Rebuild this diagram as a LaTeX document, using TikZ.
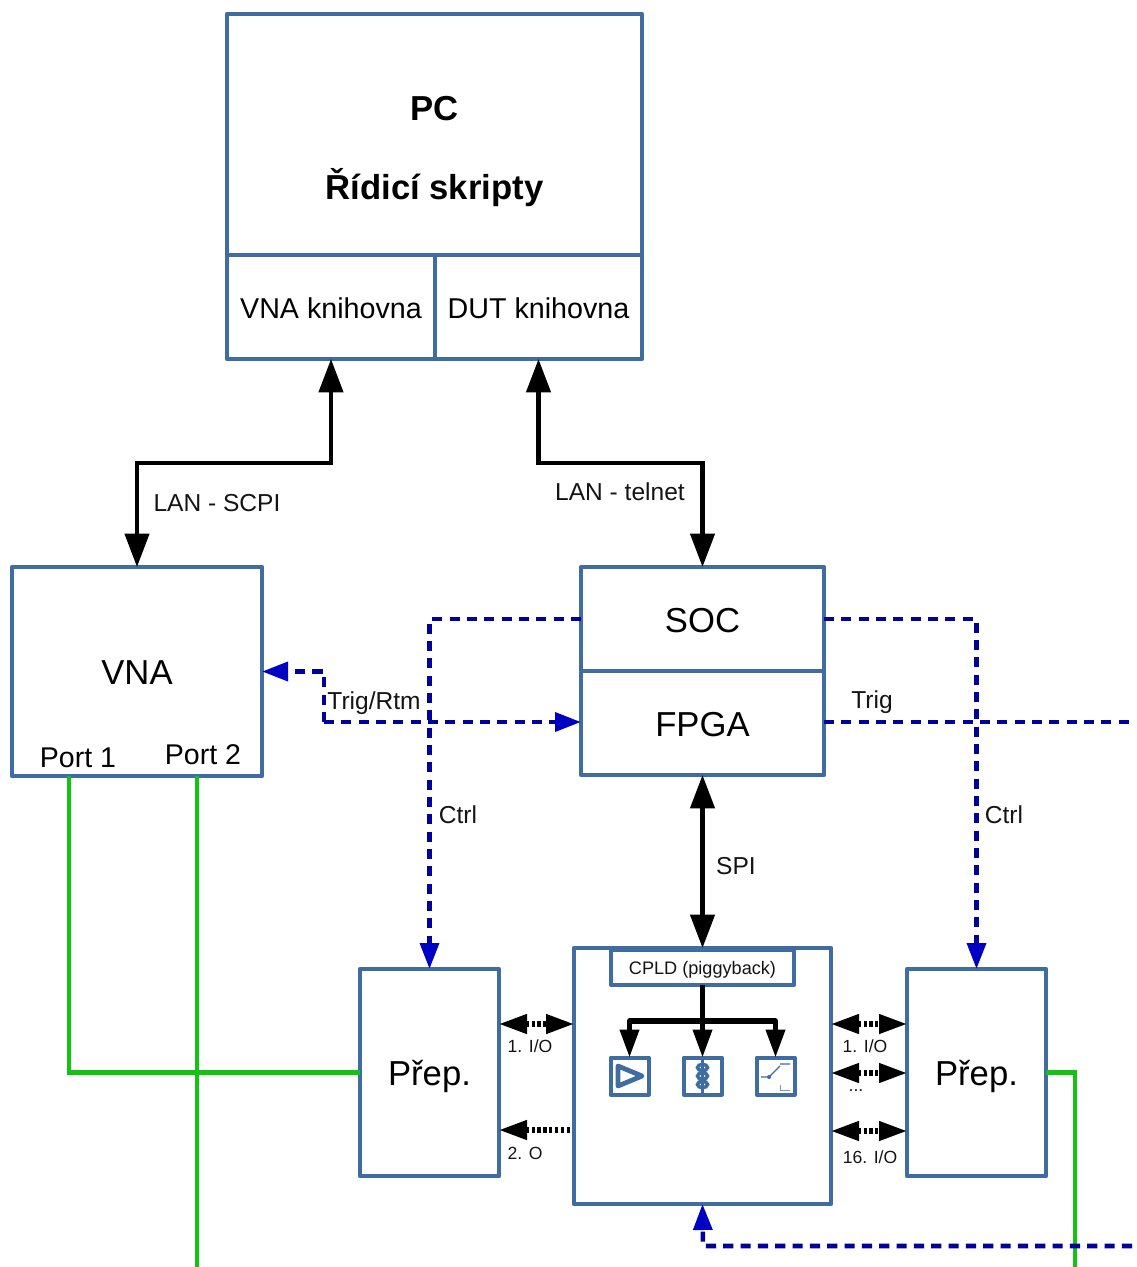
\documentclass[tikz,border=0pt]{standalone}
\usepackage{fontspec}
\setmainfont{Liberation Sans}
\usetikzlibrary{arrows.meta}
\definecolor{boxblue}{HTML}{3F6DA2}
\definecolor{dashblue}{HTML}{00009A}
\definecolor{tipblue}{HTML}{0000C4}
\definecolor{wiregreen}{HTML}{12C312}
\newcommand{\basetext}[2]{\raisebox{-#1}[10pt][10pt]{#2}}
\tikzset{
  x=0.75pt,y=-0.75pt,
  blk/.style={draw=boxblue,line width=3.3pt,inner sep=0pt,outer sep=0pt,line join=round,fill=white,align=center},
  smallblk/.style={draw=boxblue,line width=3pt,inner sep=0pt,outer sep=0pt,line join=round,fill=white},
  big/.style={font=\fontsize{26}{30}\selectfont},
  lib/.style={font=\fontsize{21.5}{25}\selectfont},
  lbl/.style={font=\fontsize{18.4}{22}\selectfont,inner sep=0pt,text=black!92},
  tiny/.style={font=\fontsize{13.2}{16}\selectfont,inner sep=0pt,text=black!92},
  heading/.style={font=\fontsize{26}{30}\bfseries\selectfont,inner sep=0pt},
  bigtip/.tip={Triangle[length=25pt,width=18pt]},
  midtip/.tip={Triangle[length=21pt,width=14pt]},
  bluetip/.tip={Triangle[length=19.5pt,width=14pt,color=tipblue]},
  ctl/.style={draw=black,line width=3.2pt,line join=miter},
  tee/.style={draw=black,line width=3.8pt,line join=round},
  io/.style={draw=black,line width=4pt,dash pattern=on 2.4pt off 2pt},
  trig/.style={draw=dashblue,line width=3.4pt,dash pattern=on 7.6pt off 5.4pt},
  wire/.style={draw=wiregreen,line width=3.2pt,line join=miter},
}
\begin{document}
\begin{tikzpicture}
\useasboundingbox (0,0) rectangle (1136,1267);
\fill[white] (0,0) rectangle (1136,1267);

% free ends
\coordinate (leftbus) at (324,722);
\coordinate (trigend) at (1132,722);
\coordinate (trigback) at (1132,1246);
\coordinate (cpldin) at (703,1246);
\coordinate (port1) at (69,776);
\coordinate (port2) at (197,776);
\coordinate (port2end) at (197,1267);
\coordinate (rightend) at (1075,1267);
\coordinate (o2start) at (570,1130);
\coordinate (fan) at (702.5,1021);

% blocks
\node[blk,minimum width=311.25pt,minimum height=180.75pt] (pc) at (434.5,134.5) {};
\node[blk,lib,minimum width=156pt,minimum height=78pt] (vnalib) at (331,307) {\basetext{8.5pt}{VNA knihovna}};
\node[blk,lib,minimum width=155.25pt,minimum height=78pt] (dutlib) at (538.5,307) {\basetext{8.5pt}{DUT knihovna}};
\node[blk,big,minimum width=187.5pt,minimum height=156.75pt] (vna) at (137,671.5) {\basetext{9.6pt}{VNA}};
\node[blk,big,minimum width=182.25pt,minimum height=78pt] (soc) at (702.5,619) {\basetext{10pt}{SOC}};
\node[blk,big,minimum width=182.25pt,minimum height=78pt] (fpga) at (702.5,723) {\basetext{10pt}{FPGA}};
\node[blk,minimum width=192.75pt,minimum height=192pt] (cpld) at (702.5,1076) {};
\node[blk,font=\fontsize{13.6}{15}\selectfont,minimum width=137.25pt,minimum height=26.25pt,text=black!92] (pig) at (702.5,967.5) {\basetext{4.9pt}{CPLD (piggyback)}};
\node[blk,big,minimum width=104.25pt,minimum height=155.25pt] (prepl) at (429.5,1072.5) {\basetext{10pt}{Přep.}};
\node[blk,big,minimum width=104.25pt,minimum height=155.25pt] (prepr) at (976.5,1072.5) {\basetext{10pt}{Přep.}};
\node[smallblk,minimum width=28.5pt,minimum height=27.75pt] (amp) at (629.5,1076) {};
\node[smallblk,minimum width=28.5pt,minimum height=27.75pt] (ind) at (702.5,1076) {};
\node[smallblk,minimum width=28.5pt,minimum height=27.75pt] (sw) at (775.5,1076) {};

% block texts
\node[heading] (pctitle) at (434.5,109) {PC};
\node[heading] (pcsub) at (434.5,187.5) {Řídicí skripty};
\node[font=\fontsize{21.4}{25}\selectfont,inner sep=0pt] (p1txt) at (78,758) {Port 1};
\node[font=\fontsize{21.4}{25}\selectfont,inner sep=0pt] (p2txt) at (203,755) {Port 2};

% icon contents
\draw[boxblue,line width=3.6pt,line join=round] (618,1066) -- (642,1076) -- (618,1086) -- cycle;
\draw[boxblue,line width=2pt] (702.5,1057) -- (702.5,1095);
\draw[boxblue,line width=2.6pt] (702.5,1067.5) ellipse (5 and 3.2)
  (702.5,1076) ellipse (5 and 3.2) (702.5,1084.5) ellipse (5 and 3.2);
\draw[boxblue,line width=0.9pt] (761,1077) -- (769,1077) -- (780,1066) (780,1064) -- (790,1064);
\fill[boxblue] (769,1077) circle (2);
\draw[boxblue!70,line width=0.5pt] (780,1085) -- (780,1090) -- (790,1090);

% PC links
\draw[ctl,{bigtip}-{bigtip}] (vnalib.south) -- (331,463) -| (vna.north);
\draw[ctl,{bigtip}-{bigtip}] (dutlib.south) -- (538.5,463) -| (soc.north);
\node[lbl] (lanscpi) at (217,503) {LAN - SCPI};
\node[lbl] (lantelnet) at (620,492) {LAN - telnet};

% green wires
\draw[wire] (port1) |- (prepl.west);
\draw[wire] (port2) -- (port2end);
\draw[wire] (prepr.east) -| (rightend);

% dashed control lines
\draw[trig,-{bluetip}] (soc.west) -| (prepl.north);
\draw[trig,-{bluetip}] (soc.east) -| (prepr.north);
\draw[trig,-{bluetip}] (leftbus) -- (leftbus |- vna.east) -- (vna.east);
\draw[trig,-{bluetip}] (leftbus) -- (leftbus -| fpga.west);
\draw[trig] (fpga.east |- trigend) -- (trigend);
\draw[trig,-{bluetip}] (trigback) -- (cpldin) -- (cpld.south);
\node[lbl] (trigrtm) at (374,703.5) {Trig/Rtm};
\node[lbl] (trigl) at (872,702.5) {Trig};
\node[lbl] (ctrll) at (458,814.5) {Ctrl};
\node[lbl] (ctrlr) at (1004,814.5) {Ctrl};

% SPI
\draw[ctl,{bigtip}-{bigtip}] (fpga.south) -- (cpld.north);
\node[lbl] (spi) at (736,866) {SPI};

% CPLD fan-out
\draw[tee] (pig.south) -- (fan);
\draw[tee,-{midtip}] (fan) -| (amp.north);
\draw[tee,-{midtip}] (fan) -- (ind.north);
\draw[tee,-{midtip}] (fan) -| (sw.north);

% I/O links
\draw[io,{midtip}-{midtip}] (prepl.east |- 0,1024) -- (cpld.west |- 0,1024);
\draw[io,-{midtip}] (o2start) -- (prepl.east |- o2start);
\draw[io,{midtip}-{midtip}] (cpld.east |- 0,1024) -- (prepr.west |- 0,1024);
\draw[io,{midtip}-{midtip}] (cpld.east |- 0,1073) -- (prepr.west |- 0,1073);
\draw[io,{midtip}-{midtip}] (cpld.east |- 0,1131) -- (prepr.west |- 0,1131);
\node[tiny] (io1l) at (530,1046) {1. I/O};
\node[tiny] (o2) at (525,1153) {2. O};
\node[tiny] (io1r) at (865,1046) {1. I/O};
\node[tiny] (iodots) at (856,1091) {...};
\node[tiny] (io16) at (870,1157) {16. I/O};
\end{tikzpicture}
\end{document}
